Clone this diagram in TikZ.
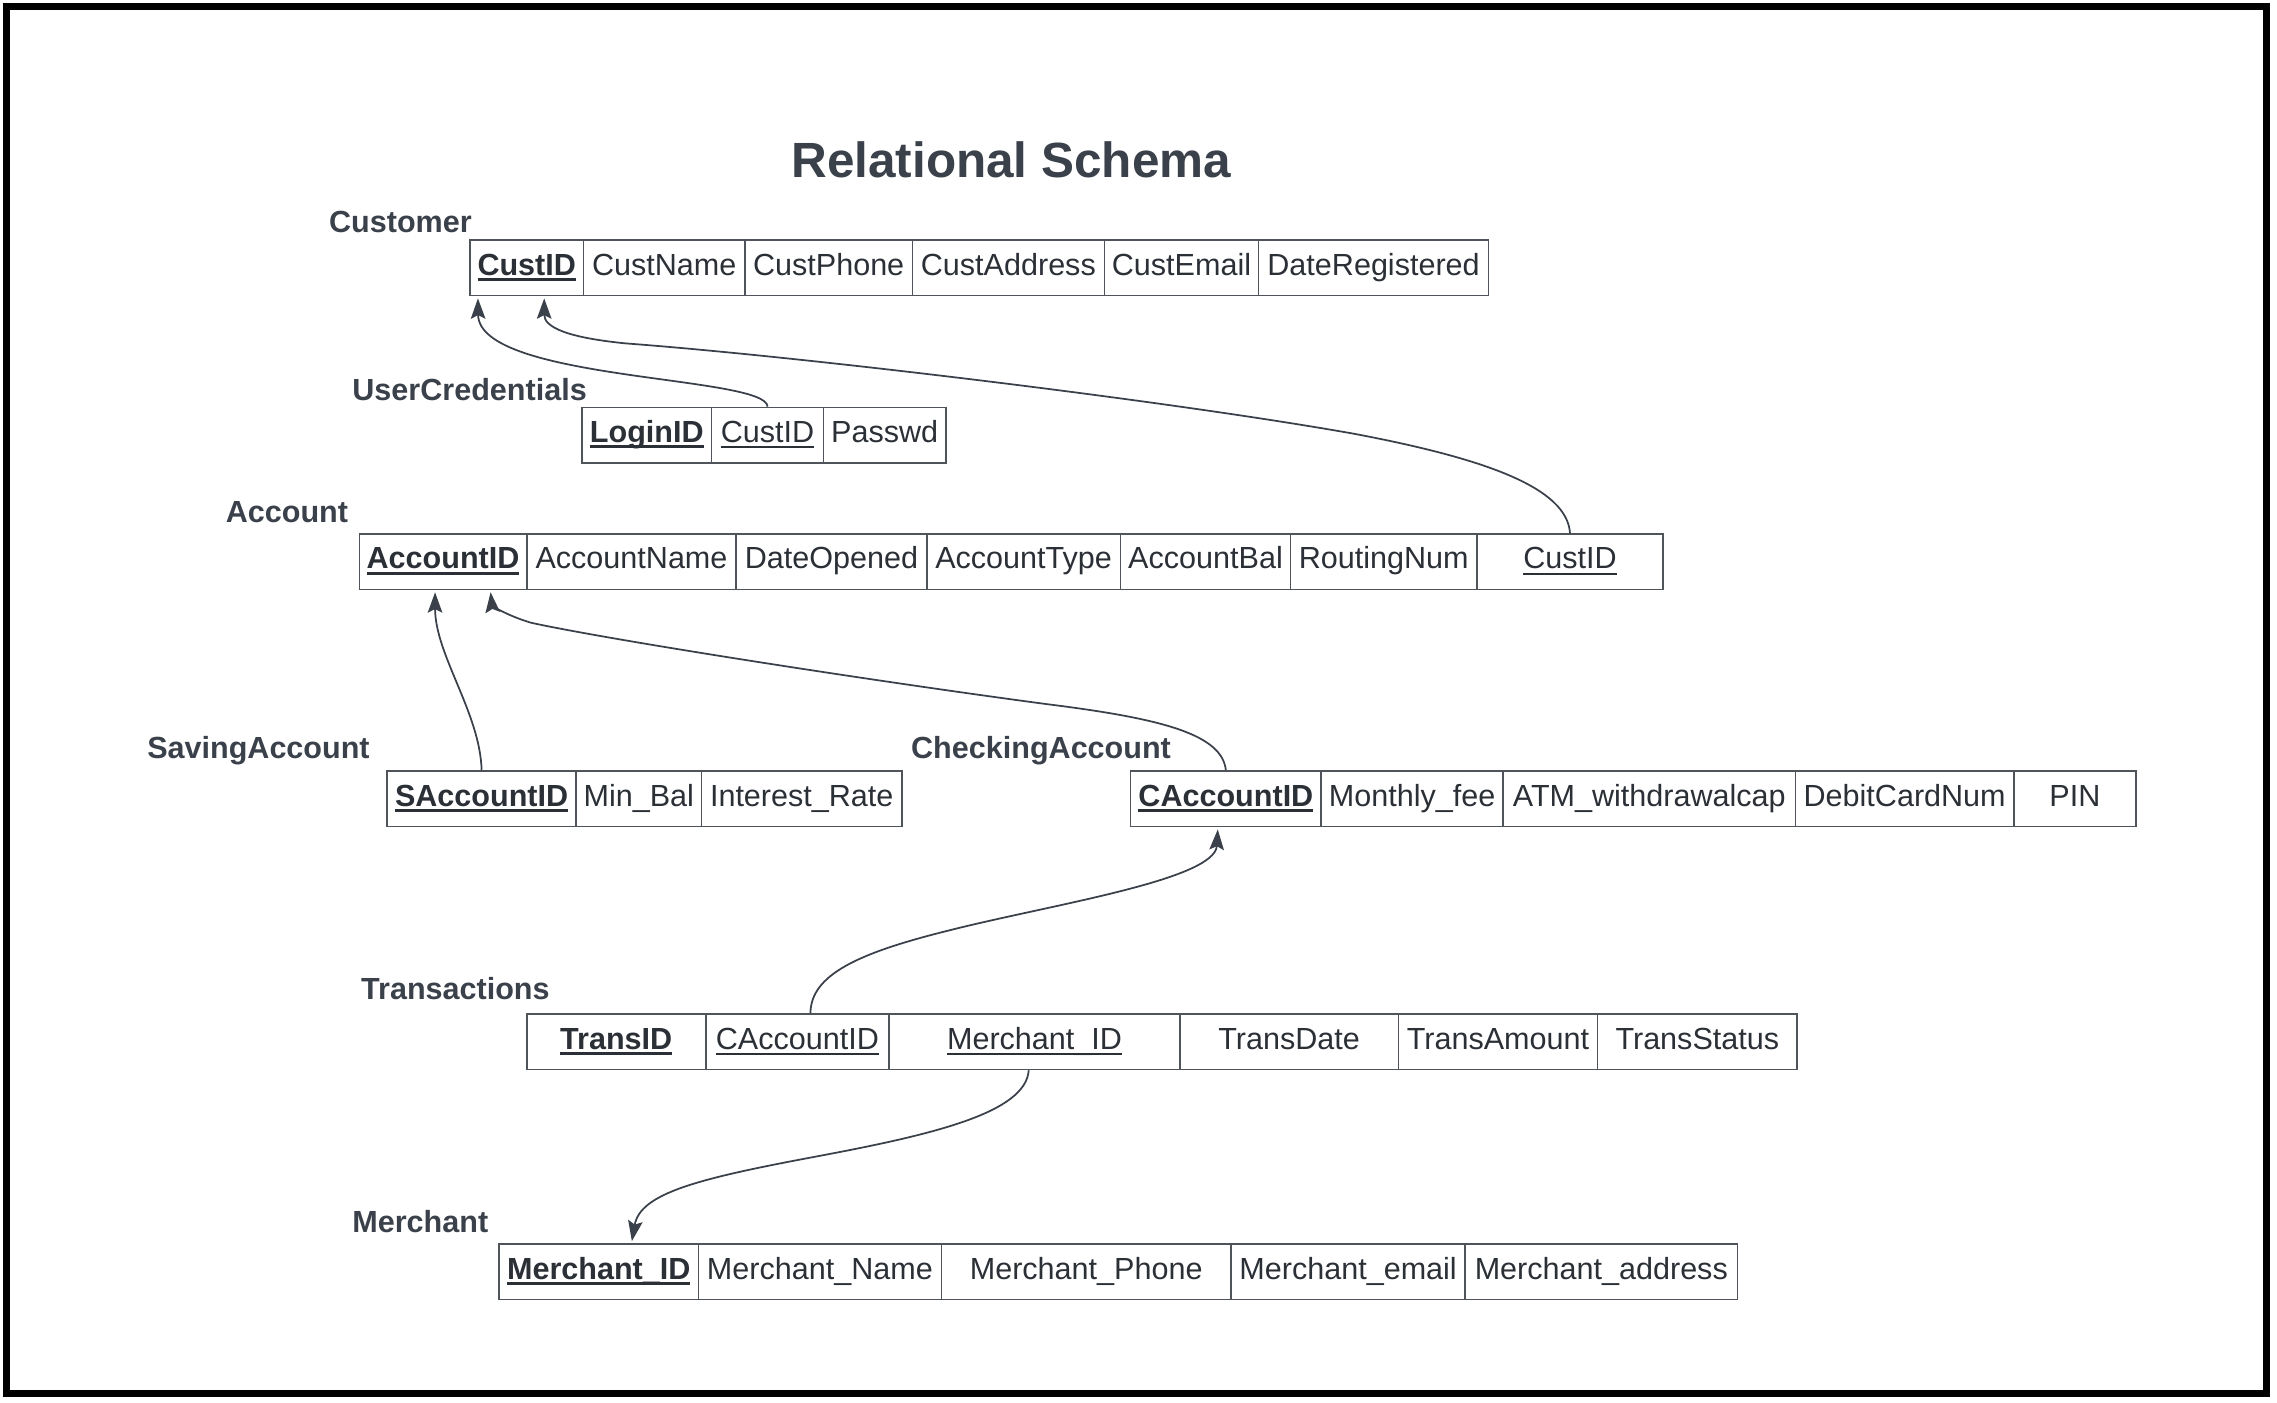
\documentclass[tikz,border=0pt]{standalone}
\usepackage{fontspec}
\setmainfont{Liberation Sans}
\usetikzlibrary{arrows.meta}
\definecolor{ink}{HTML}{3A414A}
\definecolor{celltext}{HTML}{2B2F36}
\definecolor{gridline}{HTML}{4F545A}
\newsavebox\ulbox
\newcommand\pkey[1]{\sbox\ulbox{\bfseries #1}\rlap{\rule[-4pt]{\wd\ulbox}{2.2pt}}\usebox\ulbox}
\newcommand\fkey[1]{\sbox\ulbox{#1}\rlap{\rule[-4pt]{\wd\ulbox}{1.3pt}}\usebox\ulbox}
\newcommand\relrow[4]{%
  \foreach \xl/\xr/\txt [count=\i] in {#4}{%
    \node[cell, minimum width={(\xr-\xl)*1pt}] (#1\i) at ({(\xl+\xr)/2},{(#2+#3)/2}) {\txt};
  }}
\tikzset{
  cell/.style={draw=gridline, line width=1.1pt, inner sep=0pt, minimum height=38pt,
    text height=15pt, text depth=5pt, font=\fontsize{21}{25}\selectfont, text=celltext},
  rellabel/.style={font=\bfseries\fontsize{21}{25}\selectfont, text=ink, anchor=base west, inner sep=0pt},
  fk/.style={draw=ink, line width=1.2pt, shorten >=1.5pt, -{Stealth[length=14pt,width=10pt,inset=2.5pt]}},
}
\begin{document}
\begin{tikzpicture}[x=1pt,y=-1pt]
\useasboundingbox (0,0) rectangle (1564.9,963.6);
\draw[line width=4.8pt, black] (4.4,4.4) rectangle (1557.7,957.6);

\node[font=\bfseries\fontsize{34}{40}\selectfont, text=ink, anchor=base] (title) at (695,122) {Relational Schema};

\node[rellabel] (lcust) at (226,160) {Customer};
\node[rellabel] (luc) at (242,275) {UserCredentials};
\node[rellabel] (lacc) at (155,359) {Account};
\node[rellabel] (lsav) at (101,521) {SavingAccount};
\node[rellabel] (lchk) at (626,521) {CheckingAccount};
\node[rellabel] (ltr) at (248,687) {Transactions};
\node[rellabel] (lmer) at (242,847) {Merchant};

\relrow{cust}{165}{203}{323/401/{\pkey{CustID}},401/512/CustName,512/627/CustPhone,627/759/CustAddress,759/865/CustEmail,865/1023/DateRegistered}
\relrow{uc}{280}{318}{400/489/{\pkey{LoginID}},489/566/{\fkey{CustID}},566/650/Passwd}
\relrow{acc}{367}{405}{247/362/{\pkey{AccountID}},362/506/AccountName,506/637/DateOpened,637/770/AccountType,770/887/AccountBal,887/1015/RoutingNum,1015/1143/{\fkey{CustID}}}
\relrow{sav}{530}{568}{266/396/{\pkey{SAccountID}},396/482/Min\_Bal,482/620/Interest\_Rate}
\relrow{chk}{530}{568}{777/908/{\pkey{CAccountID}},908/1033/Monthly\_fee,1033/1234/ATM\_withdrawalcap,1234/1384/DebitCardNum,1384/1468/PIN}
\relrow{tr}{697}{735}{362/485/{\pkey{TransID}},485/611/{\fkey{CAccountID}},611/811/{\fkey{Merchant\_ID}},811/961/TransDate,961/1098/TransAmount,1098/1235/TransStatus}
\relrow{mer}{855}{893}{343/480/{\pkey{Merchant\_ID}},480/647/Merchant\_Name,647/846/Merchant\_Phone,846/1007/Merchant\_email,1007/1194/Merchant\_address}

% connectors
\draw[fk] (uc2.north) .. controls (527,258) and (329,262) .. ([xshift=6pt]cust1.south west);
\draw[fk] (acc7.north) .. controls (1077,335) and (1020,315) .. (930,298)
  .. controls (800,275) and (550,245) .. (430,236)
  .. controls (390,232) and (374,225) .. ([xshift=12pt]cust1.south);
\draw[fk] (sav1.north) .. controls (330,490) and (299,450) .. ([xshift=-5.5pt]acc1.south);
\draw[fk] (chk1.north) .. controls (840,505) and (800,494) .. (720,484)
  .. controls (600,468) and (420,440) .. (365,428)
  .. controls (345,422) and (338,415) .. ([xshift=32.5pt]acc1.south);
\draw[fk] ([xshift=9pt]tr2.north) .. controls (557,670) and (590,655) .. (650,640)
  .. controls (720,622) and (835,605) .. ([xshift=-5.5pt]chk1.south);
\draw[fk] ([xshift=-4pt]tr3.south) .. controls (705,765) and (640,780) .. (560,795)
  .. controls (480,810) and (440,820) .. ([xshift=22.5pt]mer1.north);
\end{tikzpicture}
\end{document}
